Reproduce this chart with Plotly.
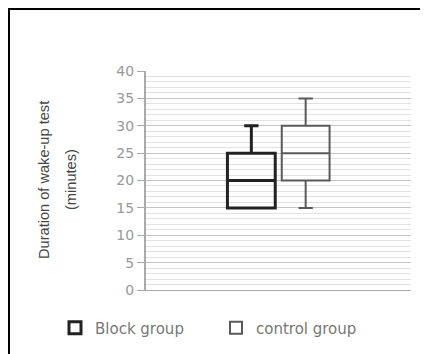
import plotly.graph_objects as go

category = ["all"]
series_names = ["Block group", "control group"]
lower = [15, 15]
q1 = [15, 20]
median = [20, 25]
q3 = [25, 30]
upper = [30, 35]
line_colors = ["#222222", "#5a5a5a"]
line_widths = [3, 2]
title_lines = ["Duration of wake-up test", "(minutes)"]

OFF = 8  # page body margin
W, H = 428 - OFF, 354 - OFF
L, R, T, B = 146 - OFF, 17, 71 - OFF, 64
pw, ph = W - L - R, H - T - B

fig = go.Figure()
for i, name in enumerate(series_names):
    fig.add_trace(go.Box(
        name=name, x=category,
        q1=[q1[i]], median=[median[i]], q3=[q3[i]],
        lowerfence=[lower[i]], upperfence=[upper[i]],
        fillcolor="rgba(255,255,255,0)",
        line=dict(color=line_colors[i], width=line_widths[i]),
        whiskerwidth=0.3, boxpoints=False, hoverinfo="skip",
    ))

def px2x(p):
    return (p - OFF - L) / pw

def py2y(p):
    return (H + OFF - B - p) / ph

annotations = []
for txt, cx in zip(title_lines, [44, 71]):
    annotations.append(dict(text=txt, xref="paper", yref="paper",
                            x=px2x(cx), y=py2y(180), xanchor="center", yanchor="middle",
                            textangle=-90, showarrow=False,
                            font=dict(family="Liberation Sans Narrow, Liberation Sans", size=14.6, color="#444444")))

fig.update_layout(
    width=W, height=H,
    margin=dict(l=L, r=R, t=T, b=B, autoexpand=False),
    paper_bgcolor="white", plot_bgcolor="white",
    boxmode="group", boxgap=0.59, boxgroupgap=0.12,
    showlegend=True,
    legend=dict(orientation="h", x=px2x(55), xanchor="left",
                y=py2y(328), yanchor="middle",
                entrywidth=116, entrywidthmode="pixels",
                font=dict(family="DejaVu Sans", size=15, color="#777777")),
    annotations=annotations,
    shapes=[dict(type="rect", xref="paper", yref="paper",
                 x0=px2x(9), x1=px2x(440), y0=py2y(370), y1=py2y(9),
                 line=dict(color="black", width=2), fillcolor="rgba(0,0,0,0)",
                 layer="above")],
)
fig.update_xaxes(type="category", showticklabels=False, showgrid=False, ticks="",
                 showline=True, linecolor="#aaaaaa", linewidth=1,
                 range=[-0.5, 0.5])
fig.update_yaxes(range=[0, 40], dtick=5, showgrid=True, gridcolor="#c4c4c4",
                 gridwidth=1, ticks="outside", ticklen=7, tickcolor="#aaaaaa",
                 showline=True, linecolor="#aaaaaa", linewidth=2, zeroline=False,
                 tickfont=dict(family="DejaVu Sans", size=14, color="#999999"),
                 minor=dict(dtick=1, showgrid=True, gridcolor="#e2e2e2", gridwidth=1, ticks=""))

fig.write_html("out.html")
